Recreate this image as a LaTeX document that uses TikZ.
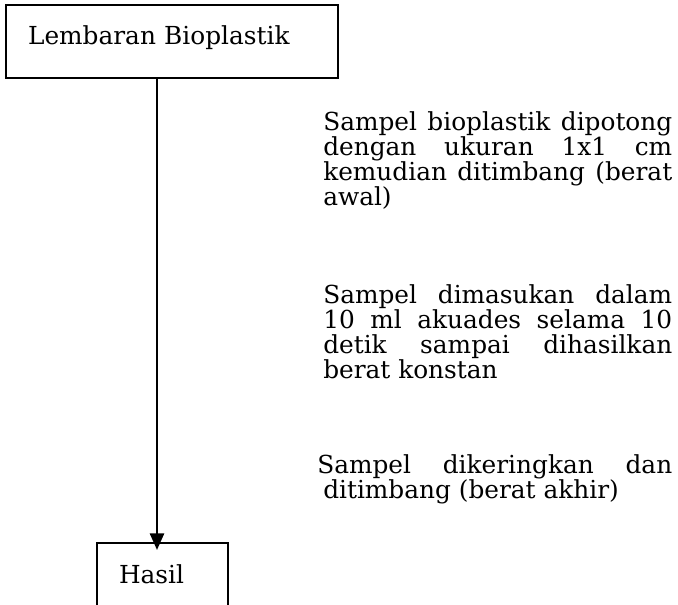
\documentclass[tikz,border=0pt]{standalone}
\usepackage{fontspec}
\setmainfont{DejaVu Serif}
\usetikzlibrary{arrows.meta}

\begin{document}
\begin{tikzpicture}[
    x=0.75pt, y=-0.75pt,
    every node/.style={font=\fontsize{18.6pt}{18.75pt}\selectfont, inner sep=0pt},
    box/.style={draw, line width=1.6pt, anchor=north west, align=left, inner xsep=16.5pt},
    note/.style={anchor=base west, text width=261.75pt, align=justify},
    flow/.style={draw, line width=2pt, -{Triangle[length=12.5pt, width=10.5pt]}}
]
\path[use as bounding box, clip] (0,0) rectangle (678,604);

\node[box, text width=216pt, text height=29.25pt, text depth=25.5pt] (lembaran) at (5,4) {Lembaran Bioplastik};
\node[box, text width=65.25pt, text height=30pt, text depth=30pt] (hasil) at (96,542) {Hasil};

\coordinate (stem) at (157,0);
\draw[flow, shorten >=-6pt] (lembaran.south -| stem) -- (hasil.north -| stem);

% keterangan tiap tahap
\node[note] (potong) at (323,130) {Sampel bioplastik dipotong\linebreak dengan ukuran 1x1 cm\linebreak kemudian ditimbang (berat\linebreak awal)};
\node[note] (rendam) at (323,303) {Sampel dimasukan dalam\linebreak 10 ml akuades selama 10\linebreak detik sampai dihasilkan\linebreak berat konstan};
\node[note] (kering) at (323,473) {\hspace*{-4.5pt}Sampel dikeringkan dan\linebreak ditimbang (berat akhir)};

\end{tikzpicture}
\end{document}
